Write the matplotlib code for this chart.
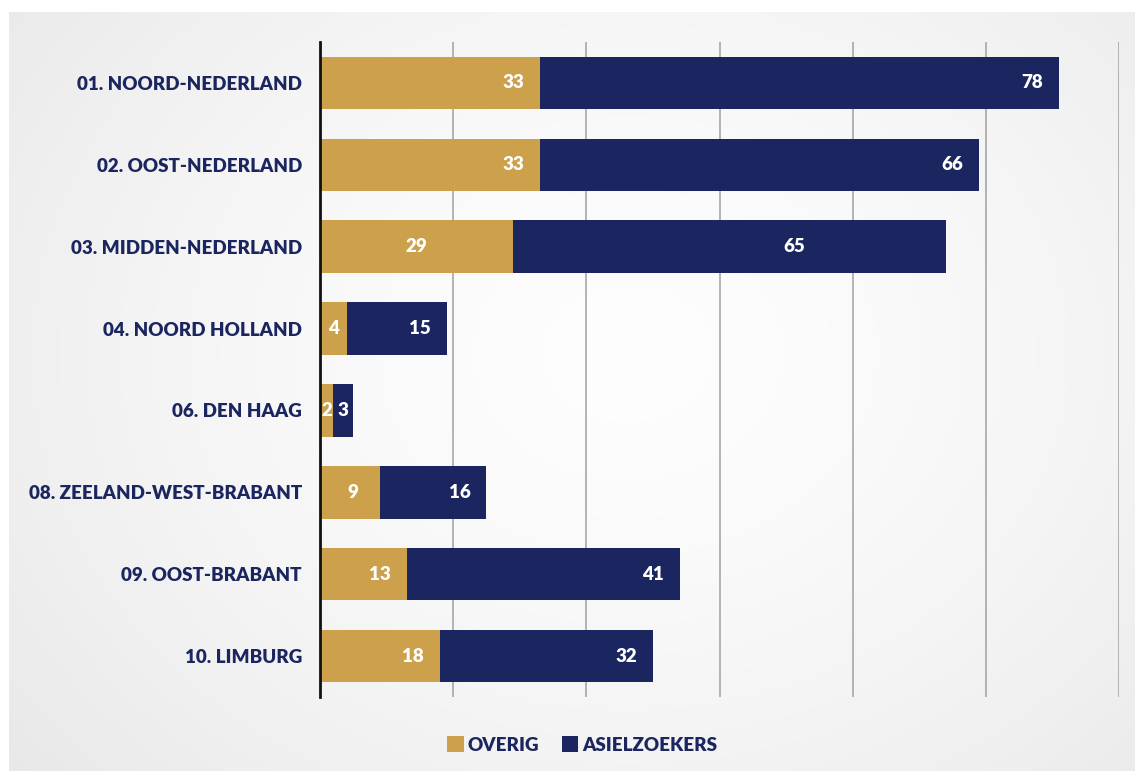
import matplotlib
matplotlib.use("Agg")
import matplotlib.pyplot as plt
import numpy as np
from matplotlib.patches import Patch

categories = ["01. NOORD-NEDERLAND", "02. OOST-NEDERLAND", "03. MIDDEN-NEDERLAND",
              "04. NOORD HOLLAND", "06. DEN HAAG", "08. ZEELAND-WEST-BRABANT",
              "09. OOST-BRABANT", "10. LIMBURG"]
overig = [33, 33, 29, 4, 2, 9, 13, 18]
asielzoekers = [78, 66, 65, 15, 3, 16, 41, 32]
series_names = ["OVERIG", "ASIELZOEKERS"]
x_ticks = [0, 20, 40, 60, 80, 100, 120]

GOLD = "#CDA04B"
NAVY = "#1B2560"
FONT = ["Lato", "DejaVu Sans"]
WEIGHT = "heavy"

W, H, DPI = 1135, 771, 100
fig = plt.figure(figsize=(W / DPI, H / DPI), dpi=DPI, facecolor="white")

# background panel with subtle gradient
bg = fig.add_axes([0.008, 0, 0.992, 1 - 12 / H])
bg.set_axis_off()
xx = np.linspace(0, 1, 400)
yy = np.linspace(0, 1, 300)
X, Y = np.meshgrid(xx, yy)
d = np.sqrt(((X - 0.55) / 0.75) ** 2 + ((Y - 0.45) / 0.9) ** 2)
val = 0.995 - 0.09 * np.clip(d, 0, 1) ** 1.5
img = np.dstack([val, val, val])
bg.imshow(img, aspect="auto", extent=[0, 1, 0, 1], origin="upper")
bg.set_xlim(0, 1)
bg.set_ylim(0, 1)

ax = fig.add_axes([320 / W, 1 - 697 / H, (1119 - 320) / W, (697 - 42) / H])
ax.set_facecolor("none")

y = np.arange(len(categories))
bh = 0.64
ax.barh(y, overig, height=bh, color=GOLD, label=series_names[0], zorder=3)
ax.barh(y, asielzoekers, left=overig, height=bh, color=NAVY, label=series_names[1], zorder=3)

ax.set_xlim(0, 120)
ax.set_ylim(len(categories) - 0.5, -0.5)
ax.set_xticks(x_ticks)
ax.set_xticklabels([])
ax.tick_params(axis="x", length=0)
ax.tick_params(axis="y", length=0, pad=13)
ax.set_yticks(y)
ax.set_yticklabels(categories, fontsize=13.5, fontweight=WEIGHT, color=NAVY, family=FONT)
ax.grid(axis="x", color="#a0a0a0", linewidth=1.1, zorder=0)
for s in ["top", "right", "bottom"]:
    ax.spines[s].set_visible(False)
ax.spines["left"].set_color("#111111")
ax.spines["left"].set_linewidth(2)
ax.spines["left"].set_zorder(5)

# value labels: inside end of segment, centered when segment small
center_rows = {2}
end_off = 4.0
for i in range(len(categories)):
    for start, v in ((0, overig[i]), (overig[i], asielzoekers[i])):
        if v < 8 or i in center_rows:
            xpos = start + v / 2
            if i in center_rows and start > 0:
                xpos = start + v * 0.65
        else:
            xpos = start + v - end_off
        ax.text(xpos, i, str(v), ha="center", va="center", color="white",
                fontsize=13.5, fontweight=WEIGHT, family=FONT, zorder=4)

handles = [Patch(facecolor=GOLD, label=series_names[0]),
           Patch(facecolor=NAVY, label=series_names[1])]
fig.legend(handles=handles, loc="center", bbox_to_anchor=(582 / W, 1 - 745 / H),
           ncol=2, frameon=False, handlelength=0.9, handleheight=0.9,
           handletextpad=0.2, columnspacing=1.2,
           prop={"family": FONT, "weight": WEIGHT, "size": 13.5})
for t in fig.legends[0].get_texts():
    t.set_color(NAVY)

fig.savefig("out.png", dpi=DPI, facecolor="white")
